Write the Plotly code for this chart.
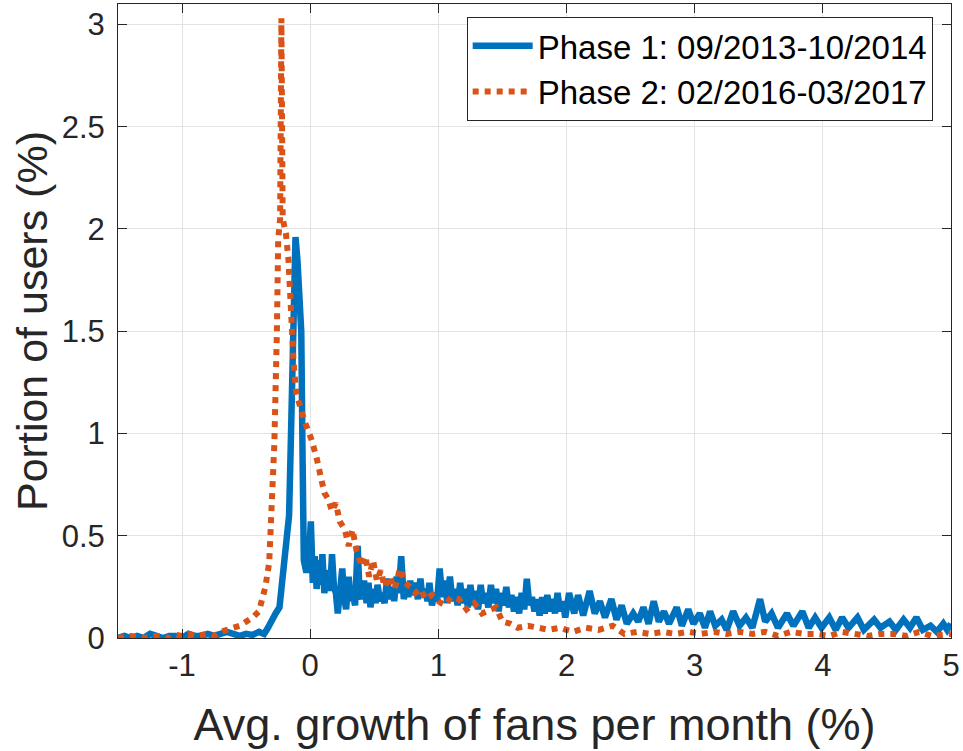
import plotly.graph_objects as go

# Phase 1: 09/2013-10/2014
phase1_x = [-1.50, -1.45, -1.40, -1.35, -1.30, -1.25, -1.20, -1.15, -1.10, -1.05,
            -1.00, -0.95, -0.90, -0.85, -0.80, -0.75, -0.70, -0.65, -0.60, -0.55,
            -0.50, -0.45, -0.40, -0.36, -0.33, -0.30, -0.27, -0.24, -0.22, -0.19,
            -0.165, -0.15, -0.135, -0.115, -0.10, -0.085, -0.07, -0.06, -0.05, -0.03,
            -0.01, 0.005,
            0.020, 0.035, 0.050, 0.065, 0.080, 0.095, 0.110, 0.125, 0.140, 0.155,
            0.170, 0.185, 0.200, 0.215, 0.230, 0.250, 0.265, 0.280, 0.300, 0.315,
            0.330, 0.350, 0.370, 0.385, 0.400, 0.420, 0.440, 0.455, 0.470, 0.490,
            0.510, 0.525, 0.545, 0.560, 0.580, 0.600, 0.620, 0.640, 0.655, 0.675,
            0.690, 0.710, 0.730, 0.750, 0.765, 0.780, 0.800, 0.820, 0.840, 0.860,
            0.875, 0.895, 0.915, 0.930, 0.950, 0.970, 0.990, 1.010, 1.030, 1.050,
            1.070, 1.090, 1.110, 1.130, 1.150, 1.170, 1.190, 1.210, 1.230, 1.250,
            1.270, 1.290, 1.310, 1.330, 1.350, 1.370, 1.390, 1.410, 1.430, 1.450,
            1.470, 1.490, 1.510, 1.530, 1.550, 1.570, 1.590, 1.610, 1.630, 1.650,
            1.670, 1.690, 1.710, 1.730, 1.750, 1.770, 1.790, 1.810, 1.830, 1.850,
            1.870, 1.890, 1.910, 1.930, 1.950, 1.970, 1.990,
            2.02, 2.06, 2.09, 2.13,
            2.18, 2.22, 2.26, 2.30, 2.35, 2.39, 2.43, 2.47, 2.52, 2.56,
            2.60, 2.64, 2.68, 2.72, 2.76, 2.80, 2.86, 2.90, 2.95, 2.99,
            3.04, 3.08, 3.12, 3.16, 3.21, 3.25, 3.30, 3.35, 3.40, 3.45,
            3.51, 3.55, 3.60, 3.65, 3.72, 3.77, 3.84, 3.89, 3.94, 3.99,
            4.05, 4.10, 4.15, 4.20, 4.27, 4.32, 4.40, 4.45, 4.52, 4.57,
            4.63, 4.68, 4.73, 4.78, 4.84, 4.89, 4.94, 4.97, 5.00]
phase1_y = [0.00, 0.01, 0.00, 0.01, 0.00, 0.02, 0.01, 0.00, 0.01, 0.01,
            0.00, 0.02, 0.01, 0.01, 0.02, 0.01, 0.02, 0.03, 0.02, 0.01,
            0.02, 0.015, 0.03, 0.02, 0.05, 0.09, 0.12, 0.15, 0.28, 0.43,
            0.60, 1.00, 1.60, 1.96, 1.85, 1.60, 1.50, 0.90, 0.38, 0.32,
            0.40, 0.57,
            0.27, 0.40, 0.24, 0.38, 0.26, 0.41, 0.22, 0.30, 0.33, 0.23,
            0.41, 0.25, 0.22, 0.12, 0.20, 0.34, 0.20, 0.14, 0.30, 0.18,
            0.22, 0.16, 0.45, 0.22, 0.19, 0.28, 0.17, 0.27, 0.15, 0.24,
            0.17, 0.26, 0.18, 0.22, 0.17, 0.29, 0.19, 0.25, 0.18, 0.30,
            0.22, 0.40, 0.19, 0.26, 0.20, 0.28, 0.21, 0.27, 0.19, 0.29,
            0.20, 0.24, 0.18, 0.27, 0.16, 0.22, 0.18, 0.34, 0.20, 0.28,
            0.17, 0.30, 0.18, 0.24, 0.16, 0.27, 0.17, 0.24, 0.15, 0.26,
            0.16, 0.23, 0.14, 0.26, 0.17, 0.22, 0.15, 0.26, 0.17, 0.24,
            0.13, 0.22, 0.16, 0.25, 0.15, 0.21, 0.13, 0.20, 0.12, 0.22,
            0.14, 0.29, 0.16, 0.20, 0.13, 0.19, 0.11, 0.20, 0.12, 0.21,
            0.13, 0.19, 0.12, 0.22, 0.13, 0.18, 0.10,
            0.22, 0.12, 0.21, 0.11,
            0.23, 0.12, 0.18, 0.10, 0.19, 0.09, 0.16, 0.07, 0.12, 0.08,
            0.15, 0.07, 0.18, 0.08, 0.13, 0.07, 0.15, 0.06, 0.14, 0.07,
            0.12, 0.05, 0.13, 0.06, 0.09, 0.04, 0.13, 0.06, 0.10, 0.05,
            0.19, 0.08, 0.12, 0.05, 0.12, 0.06, 0.13, 0.05, 0.10, 0.05,
            0.10, 0.04, 0.10, 0.05, 0.10, 0.04, 0.09, 0.05, 0.08, 0.04,
            0.09, 0.05, 0.10, 0.04, 0.06, 0.03, 0.07, 0.04, 0.07]

# Phase 2: 02/2016-03/2017
phase2_x = [-1.50, -1.40, -1.30, -1.20, -1.10, -1.05, -1.00, -0.95, -0.90, -0.85,
            -0.80, -0.75, -0.70, -0.65, -0.60, -0.55, -0.50, -0.45, -0.40, -0.375,
            -0.35, -0.32, -0.30, -0.28, -0.26, -0.25, -0.235, -0.225, -0.215, -0.19,
            -0.17, -0.15, -0.13, -0.11, -0.08, -0.05, -0.02, 0.01, 0.05, 0.08,
            0.11, 0.14, 0.17, 0.20, 0.23, 0.27, 0.30, 0.33, 0.36, 0.40,
            0.43, 0.46, 0.49, 0.52, 0.55, 0.58, 0.62, 0.66, 0.70, 0.74,
            0.78, 0.82, 0.86, 0.90, 0.95, 1.00, 1.05, 1.10, 1.16, 1.22,
            1.28, 1.34, 1.40, 1.45, 1.50, 1.56, 1.62, 1.70, 1.78, 1.86,
            1.95, 2.05, 2.15, 2.25, 2.36, 2.45, 2.55, 2.65, 2.75, 2.85,
            2.95, 3.05, 3.15, 3.25, 3.35, 3.45, 3.55, 3.65, 3.75, 3.85,
            3.95, 4.05, 4.15, 4.25, 4.35, 4.45, 4.55, 4.65, 4.75, 4.85,
            4.95, 5.00]
phase2_y = [0.00, 0.01, 0.00, 0.01, 0.00, 0.015, 0.01, 0.02, 0.01, 0.015,
            0.02, 0.01, 0.03, 0.04, 0.05, 0.06, 0.08, 0.10, 0.13, 0.19,
            0.25, 0.37, 0.60, 0.95, 1.50, 1.95, 2.05, 3.03, 2.05, 1.98,
            1.85, 1.55, 1.35, 1.20, 1.12, 1.07, 1.02, 0.97, 0.88, 0.78,
            0.71, 0.68, 0.62, 0.66, 0.57, 0.53, 0.45, 0.53, 0.43, 0.35,
            0.40, 0.30, 0.38, 0.28, 0.33, 0.25, 0.30, 0.24, 0.34, 0.27,
            0.25, 0.22, 0.24, 0.19, 0.21, 0.18, 0.16, 0.20, 0.19, 0.14,
            0.17, 0.12, 0.14, 0.15, 0.08, 0.07, 0.05, 0.06, 0.05, 0.04,
            0.05, 0.03, 0.05, 0.04, 0.06, 0.02, 0.03, 0.02, 0.03, 0.02,
            0.03, 0.02, 0.03, 0.02, 0.03, 0.02, 0.03, 0.01, 0.03, 0.02,
            0.02, 0.01, 0.03, 0.02, 0.01, 0.02, 0.02, 0.01, 0.03, 0.01,
            0.02, 0.02]

x_tick_vals = [-1, 0, 1, 2, 3, 4, 5]
x_tick_text = ["-1", "0", "1", "2", "3", "4", "5"]
y_tick_vals = [0, 0.5, 1, 1.5, 2, 2.5, 3]
y_tick_text = ["0", "0.5", "1", "1.5", "2", "2.5", "3"]

FONT = "Liberation Sans, Arial, Helvetica, sans-serif"
AX = "#262626"
GRID = "#e3e3e3"

fig = go.Figure()
fig.add_trace(go.Scatter(x=phase1_x, y=phase1_y, mode="lines",
                         name="Phase 1: 09/2013-10/2014",
                         line=dict(color="#0072BD", width=6.5)))
fig.add_trace(go.Scatter(x=phase2_x, y=phase2_y, mode="lines",
                         name="Phase 2: 02/2016-03/2017",
                         line=dict(color="#D95319", width=6, dash="dot")))

axis_common = dict(showline=True, linecolor=AX, linewidth=1, mirror="ticks",
                   ticks="inside", ticklen=9, tickcolor=AX, tickwidth=1,
                   showgrid=True, gridcolor=GRID, gridwidth=1, zeroline=False,
                   automargin=False,
                   tickfont=dict(family=FONT, size=31, color=AX))

fig.update_xaxes(range=[-1.5, 5], tickvals=x_tick_vals, ticktext=x_tick_text,
                 ticklabelstandoff=0,
                 title=dict(text="Avg. growth of fans per month (%)",
                            font=dict(family=FONT, size=45, color=AX), standoff=26),
                 **axis_common)
fig.update_yaxes(range=[0, 3.1], tickvals=y_tick_vals, ticktext=y_tick_text,
                 ticklabelstandoff=6,
                 title=dict(text="Portion of users (%)",
                            font=dict(family=FONT, size=43, color=AX), standoff=0),
                 **axis_common)

fig.update_layout(
    width=963, height=751,
    margin=dict(l=118, r=12, t=4, b=113),
    paper_bgcolor="white", plot_bgcolor="white",
    showlegend=True,
    legend=dict(x=0.978, y=0.98, xanchor="right", yanchor="top",
                bgcolor="white", bordercolor=AX, borderwidth=1,
                itemwidth=60,
                font=dict(family=FONT, size=33, color="black"),
                tracegroupgap=0),
)

fig.write_html("out.html",
               config={"displayModeBar": False},
               post_script="document.body.style.margin='0px';"
                           "document.body.style.overflow='hidden';")
